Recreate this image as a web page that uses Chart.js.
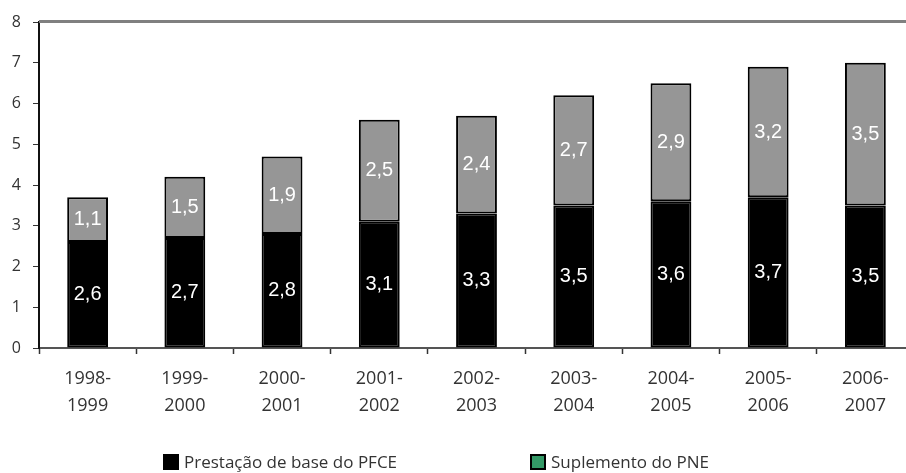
<!DOCTYPE html>
<html><head><meta charset="utf-8">
<script src="https://cdn.jsdelivr.net/npm/chart.js@4/dist/chart.umd.min.js"></script>
<style>
html,body{margin:0;padding:0;background:#fff;overflow:hidden;width:906px;height:473px;}
#wrap{position:absolute;left:0;top:0;width:914px;height:473px;}
#legend{position:absolute;top:452px;left:0;width:906px;height:20px;font-family:"Open Sans",sans-serif;font-size:17px;color:#333;}
.li{position:absolute;top:0;white-space:nowrap;line-height:20px;}
.sw{display:inline-block;width:16px;height:16px;box-sizing:border-box;border:2px solid #000;vertical-align:-2px;margin-right:5px;}
</style></head><body>
<div id="wrap"><canvas id="c" width="914" height="473"></canvas></div>
<div id="legend"></div>
<script>
const categories = [["1998-","1999"],["1999-","2000"],["2000-","2001"],["2001-","2002"],["2002-","2003"],["2003-","2004"],["2004-","2005"],["2005-","2006"],["2006-","2007"]];
const baseValues = [2.6,2.7,2.8,3.1,3.3,3.5,3.6,3.7,3.5];
const supplementValues = [1.1,1.5,1.9,2.5,2.4,2.7,2.9,3.2,3.5];
const seriesNames = ["Prestação de base do PFCE","Suplemento do PNE"];
const legendColors = ["#000000","#339966"];
const yTicks = [0,1,2,3,4,5,6,7,8];

const valueLabels = {
  id:'valueLabels',
  afterDraw(chart){
    const ctx = chart.ctx, a = chart.chartArea;
    const ty = chart.scales.y.getPixelForValue(8);
    ctx.save();
    ctx.fillStyle = '#808080';
    ctx.fillRect(a.left, ty - 2, a.right - a.left, 3);
    ctx.restore();
  },
  afterDatasetsDraw(chart){
    const ctx = chart.ctx;
    ctx.save();
    ctx.fillStyle = '#fff';
    ctx.font = '20px "Liberation Sans", Arial, sans-serif';
    ctx.textAlign = 'center';
    ctx.textBaseline = 'middle';
    chart.data.datasets.forEach((ds,i)=>{
      const meta = chart.getDatasetMeta(i);
      meta.data.forEach((bar,j)=>{
        const v = ds.data[j];
        const y = (bar.y + bar.base)/2;
        ctx.fillText(v.toFixed(1).replace('.',','), bar.x, y);
      });
    });
    ctx.restore();
  }
};

new Chart(document.getElementById('c'), {
  type:'bar',
  data:{
    labels:categories,
    datasets:[
      {label:seriesNames[0], data:baseValues, backgroundColor:'#000', borderColor:'#000', borderWidth:2, borderSkipped:false, barPercentage:0.42, categoryPercentage:1},
      {label:seriesNames[1], data:supplementValues, backgroundColor:'#969696', borderColor:'#000', borderWidth:2, borderSkipped:false, barPercentage:0.42, categoryPercentage:1}
    ]
  },
  options:{
    responsive:false,
    animation:false,
    devicePixelRatio:1,
    layout:{padding:{top:22,right:0,bottom:0,left:0}},
    plugins:{legend:{display:false},tooltip:{enabled:false}},
    scales:{
      x:{
        stacked:true,
        offset:true,
        grid:{offset:true,drawOnChartArea:false,drawTicks:true,tickLength:6,tickColor:'#333',tickWidth:1.5},
        border:{color:'#555',width:2},
        ticks:{color:'#333',font:{family:'"Open Sans", sans-serif',size:18,lineHeight:1.5},padding:11,maxRotation:0,autoSkip:false},
        afterFit(s){s.height=125;}
      },
      y:{
        stacked:true,
        min:0,max:8,
        afterBuildTicks(s){s.ticks=yTicks.map(v=>({value:v}));},
        grid:{drawOnChartArea:false,drawTicks:true,tickLength:6,tickColor:'#333'},
        border:{color:'#111',width:2},
        ticks:{color:'#333',font:{family:'"Open Sans", sans-serif',size:16},padding:12},
        afterFit(s){s.width=39;}
      }
    }
  },
  plugins:[valueLabels]
});

const lg = document.getElementById('legend');
const positions = [163,530];
seriesNames.forEach((n,i)=>{
  const d = document.createElement('div');
  d.className='li';
  d.style.left = positions[i]+'px';
  const sw = document.createElement('span');
  sw.className='sw';
  sw.style.background = legendColors[i];
  d.appendChild(sw);
  d.appendChild(document.createTextNode(n));
  lg.appendChild(d);
});
</script>
</body></html>
